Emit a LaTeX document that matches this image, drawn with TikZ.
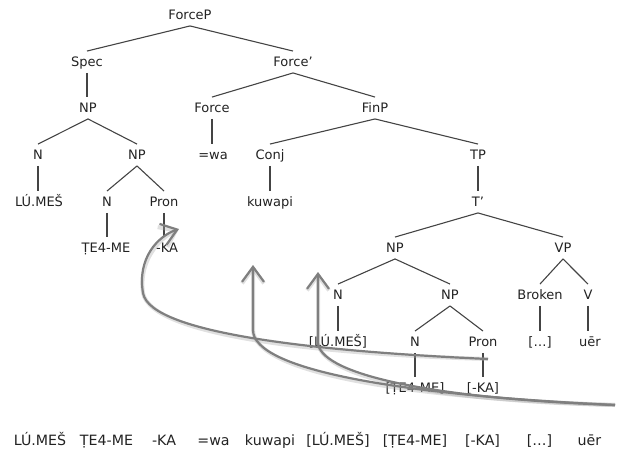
\documentclass[tikz,border=0pt]{standalone}
\usepackage{fontspec}
\setmainfont{DejaVu Sans}
\usetikzlibrary{arrows.meta}
\definecolor{txt}{HTML}{222222}
\definecolor{lin}{HTML}{444444}
\definecolor{arr}{HTML}{7F7F7F}
\begin{document}
\begin{tikzpicture}[x=1pt,y=-1pt,
  t/.style={font=\fontsize{13}{13}\selectfont, text=txt, inner xsep=1pt, inner ysep=6pt, text height=9.5pt, text depth=0pt},
  w/.style={font=\fontsize{14.2}{14.2}\selectfont, text=txt, inner xsep=0pt, inner ysep=0pt, text height=10.4pt, text depth=0pt},
  br/.style={draw=lin, line width=1.1pt},
  mv/.style={draw=arr, line width=2.2pt, -{Straight Barb[length=15pt,width=22pt]}},
  mvsh/.style={draw=black!35, line width=4pt, opacity=0.35, -{Straight Barb[length=15pt,width=22pt]}}
]
\useasboundingbox (0,0) rectangle (620,452);
% tree nodes
\node[t] (ForceP) at (190,15) {ForceP};
\node[t] (Spec) at (87,62) {Spec};
\node[t] (Forcebar) at (293,62) {Force'};
\node[t] (NPa) at (88,108) {NP};
\node[t] (Force) at (212,108) {Force};
\node[t] (FinP) at (375,108) {FinP};
\node[t] (Na) at (38,155) {N};
\node[t] (NPb) at (137,155) {NP};
\node[t] (wa) at (213,155) {=wa};
\node[t] (Conj) at (270,155) {Conj};
\node[t] (TP) at (478,155) {TP};
\node[t] (LUMES) at (39,202) {LÚ.MEŠ};
\node[t] (Nb) at (107,202) {N};
\node[t] (Prona) at (164,202) {Pron};
\node[t] (kuwapi) at (270,202) {kuwapi};
\node[t] (Tbar) at (478,202) {T’};
\node[t] (TEME) at (106,248) {ṬE4-ME};
\node[t] (KA) at (167,248) {-KA};
\node[t] (NPc) at (395,248) {NP};
\node[t] (VP) at (563,248) {VP};
\node[t] (Nc) at (338,295) {N};
\node[t] (NPd) at (450,295) {NP};
\node[t] (Broken) at (540,295) {Broken};
\node[t] (V) at (588,295) {V};
\node[t] (LUMESb) at (338,342) {[LÚ.MEŠ]};
\node[t] (Nd) at (415,342) {N};
\node[t] (Pronb) at (483,342) {Pron};
\node[t] (dots) at (540,342) {[…]};
\node[t] (uer) at (590,342) {uēr};
\node[t] (TEMEb) at (415,388) {[ṬE4-ME]};
\node[t] (KAb) at (483,388) {[-KA]};
% branches
\draw[br] (ForceP.south) -- (Spec.north);
\draw[br] (ForceP.south) -- (Forcebar.north);
\draw[br] (Spec.south) -- (Spec.south |- NPa.north);
\draw[br] (Forcebar.south) -- (Force.north);
\draw[br] (Forcebar.south) -- (FinP.north);
\draw[br] (NPa.south) -- (Na.north);
\draw[br] (NPa.south) -- (NPb.north);
\draw[br] (Force.south) -- (Force.south |- wa.north);
\draw[br] (FinP.south) -- (Conj.north);
\draw[br] (FinP.south) -- (TP.north);
\draw[br] (Na.south) -- (Na.south |- LUMES.north);
\draw[br] (NPb.south) -- (Nb.north);
\draw[br] (NPb.south) -- (Prona.north);
\draw[br] (Conj.south) -- (Conj.south |- kuwapi.north);
\draw[br] (TP.south) -- (Tbar.north);
\draw[br] (Nb.south) -- (Nb.south |- TEME.north);
\draw[br] (Prona.south) -- (Prona.south |- KA.north);
\draw[br] (Tbar.south) -- (NPc.north);
\draw[br] (Tbar.south) -- (VP.north);
\draw[br] (NPc.south) -- (Nc.north);
\draw[br] (NPc.south) -- (NPd.north);
\draw[br] (VP.south) -- (Broken.north);
\draw[br] (VP.south) -- (V.north);
\draw[br] (Nc.south) -- (Nc.south |- LUMESb.north);
\draw[br] (NPd.south) -- (Nd.north);
\draw[br] (NPd.south) -- (Pronb.north);
\draw[br] (Broken.south) -- (Broken.south |- dots.north);
\draw[br] (V.south) -- (V.south |- uer.north);
\draw[br] (Nd.south) -- (Nd.south |- TEMEb.north);
\draw[br] (Pronb.south) -- (Pronb.south |- KAb.north);
% bottom line of words
\node[w] (w1) at (40,440) {LÚ.MEŠ};
\node[w] (w2) at (106.5,440) {ṬE4-ME};
\node[w] (w3) at (164,440) {-KA};
\node[w] (w4) at (213.5,440) {=wa};
\node[w] (w5) at (270,440) {kuwapi};
\node[w] (w6) at (338,440) {[LÚ.MEŠ]};
\node[w] (w7) at (415,440) {[ṬE4-ME]};
\node[w] (w8) at (482.5,440) {[-KA]};
\node[w] (w9) at (539.5,440) {[…]};
\node[w] (w10) at (589.5,440) {uēr};
% movement arrows
\coordinate (a1s) at (488,359);
\coordinate (a1m) at (143,293);
\coordinate (a1e) at (179,229);
\coordinate (a2s) at (615,405);
\coordinate (a2m) at (253,330);
\coordinate (a2e) at (253,265);
\coordinate (a3s) at (615,405);
\coordinate (a3m) at (318,342);
\coordinate (a3e) at (318,272);
\begin{scope}[shift={(1.5,2.5)}]
\draw[mvsh] (a1s) .. controls (330,352) and (150,335) .. (a1m) .. controls (137,258) and (158,236) .. (a1e);
\draw[mvsh] (a2s) .. controls (400,395) and (253,370) .. (a2m) -- (a2e);
\draw[mvsh] (a3s) .. controls (420,398) and (318,372) .. (a3m) -- (a3e);
\end{scope}
\draw[mv] (a1s) .. controls (330,352) and (150,335) .. (a1m) .. controls (137,258) and (158,236) .. (a1e);
\draw[mv] (a2s) .. controls (400,395) and (253,370) .. (a2m) -- (a2e);
\draw[mv] (a3s) .. controls (420,398) and (318,372) .. (a3m) -- (a3e);
\end{tikzpicture}
\end{document}
